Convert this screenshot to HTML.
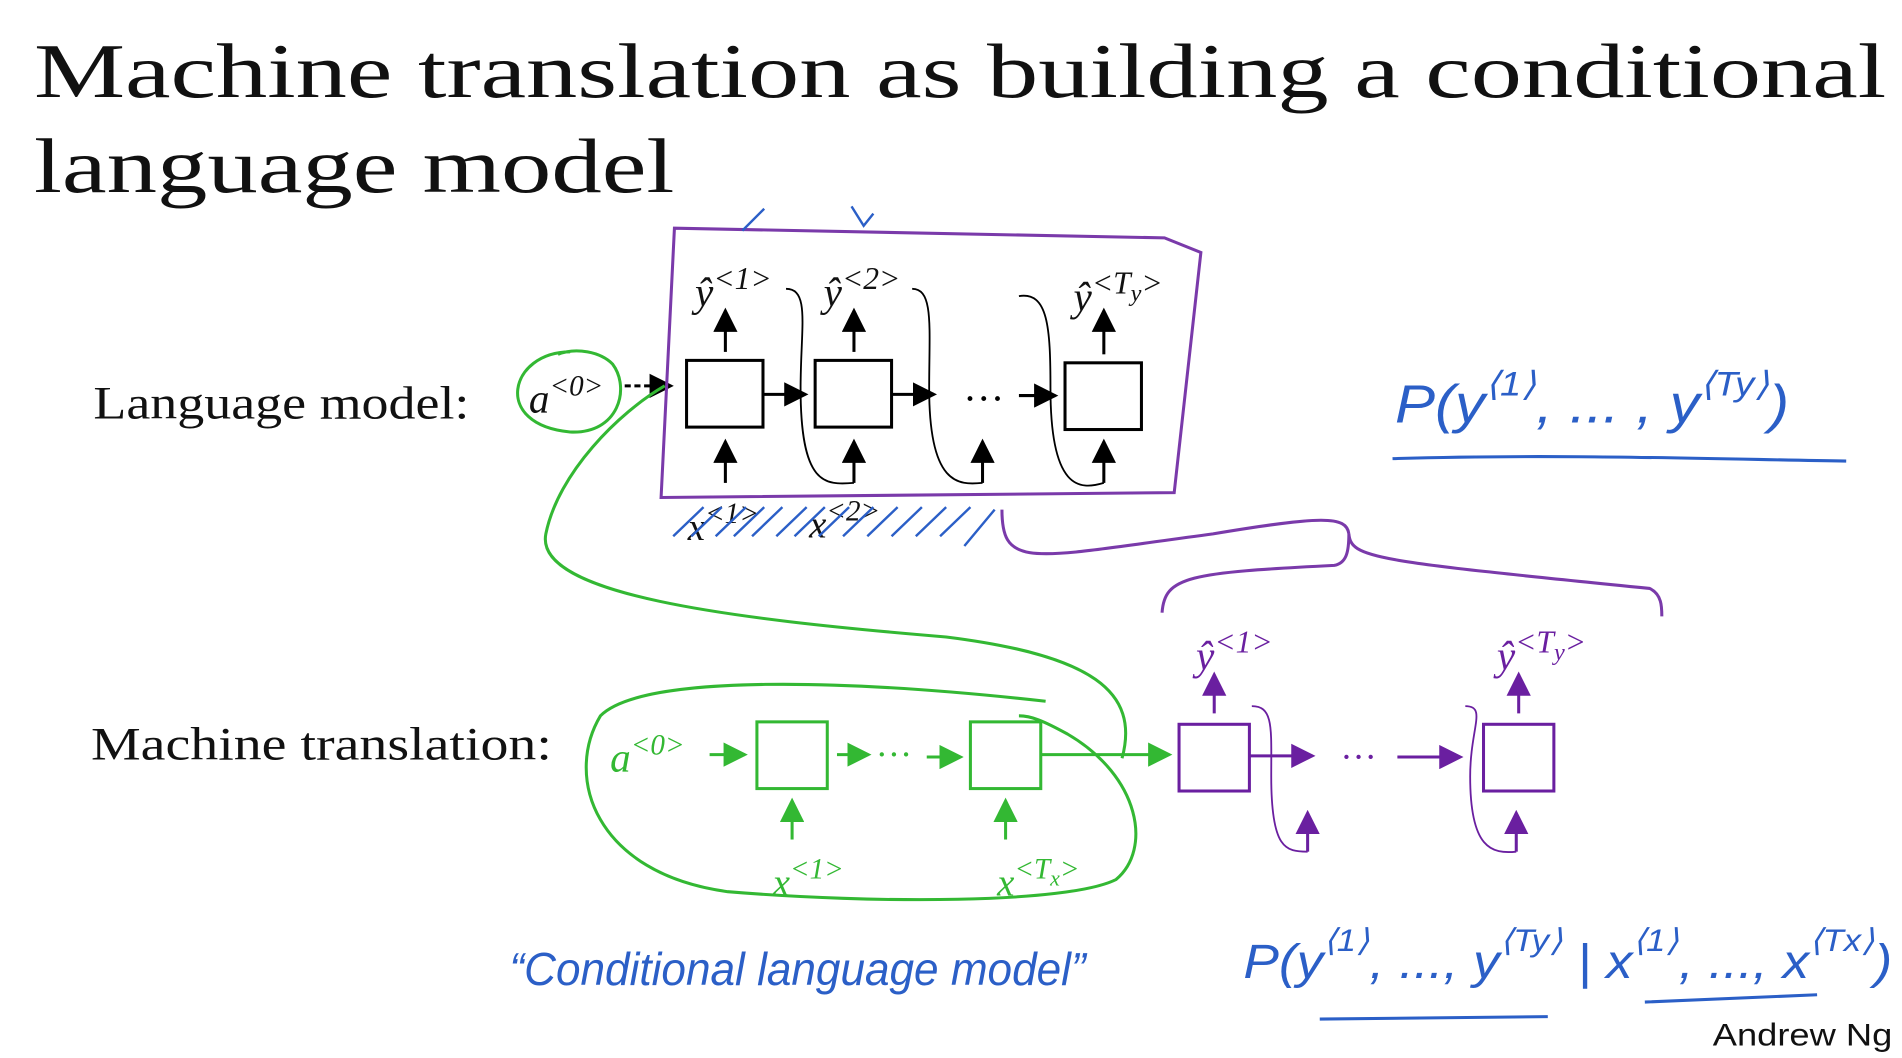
<!DOCTYPE html>
<html><head><meta charset="utf-8"><style>
html,body{margin:0;padding:0;background:#fff;overflow:hidden}
svg{display:block}
.serif{font-family:"Liberation Serif",serif}
.hand{font-family:"Liberation Sans",sans-serif;font-style:italic}
</style></head><body>
<svg width="1902" height="1058" viewBox="0 0 1568 872" xmlns="http://www.w3.org/2000/svg">
<defs>
<marker id="ak" markerWidth="8" markerHeight="8" refX="7" refY="4" orient="auto"><path d="M0,0 L8,4 L0,8z" fill="#000"/></marker>
<marker id="ag" markerWidth="8" markerHeight="8" refX="7" refY="4" orient="auto"><path d="M0,0 L8,4 L0,8z" fill="#33b833"/></marker>
<marker id="ap" markerWidth="8" markerHeight="8" refX="7" refY="4" orient="auto"><path d="M0,0 L8,4 L0,8z" fill="#6a1fa0"/></marker>
</defs>
<rect width="1568" height="872" fill="#fff"/>
<g class="serif" font-size="64" fill="#111">
<text x="28" y="80" textLength="1527" lengthAdjust="spacingAndGlyphs">Machine translation as building a conditional</text>
<text x="28" y="158" textLength="528" lengthAdjust="spacingAndGlyphs">language model</text>
</g>
<text class="serif" x="77" y="345" font-size="38" fill="#111" textLength="310" lengthAdjust="spacingAndGlyphs">Language model:</text>
<text class="serif" x="75" y="626" font-size="38" fill="#111" textLength="380" lengthAdjust="spacingAndGlyphs">Machine translation:</text>

<g stroke="#000" stroke-width="2.5" fill="none">
<rect x="566" y="297" width="63" height="55" fill="#fff"/>
<rect x="672" y="297" width="63" height="55" fill="#fff"/>
<rect x="878" y="299" width="63" height="55" fill="#fff"/>
<line x1="515" y1="318" x2="553" y2="318" stroke-dasharray="5 3" marker-end="url(#ak)"/>
<line x1="629" y1="325" x2="664" y2="325" marker-end="url(#ak)"/>
<line x1="735" y1="325" x2="770" y2="325" marker-end="url(#ak)"/>
<line x1="840" y1="326" x2="870" y2="326" marker-end="url(#ak)"/>
<line x1="598" y1="290" x2="598" y2="256" marker-end="url(#ak)"/>
<line x1="704" y1="290" x2="704" y2="256" marker-end="url(#ak)"/>
<line x1="910" y1="292" x2="910" y2="256" marker-end="url(#ak)"/>
<line x1="598" y1="398" x2="598" y2="364" marker-end="url(#ak)"/>
<line x1="704" y1="398" x2="704" y2="364" marker-end="url(#ak)"/>
<line x1="810" y1="398" x2="810" y2="364" marker-end="url(#ak)"/>
<line x1="910" y1="398" x2="910" y2="364" marker-end="url(#ak)"/>
<path d="M648,238 C668,238 660,270 660,320 C660,400 680,400 704,398" stroke-width="1.5"/>
<path d="M752,238 C770,238 766,270 766,320 C766,400 790,400 810,398" stroke-width="1.5"/>
<path d="M840,244 C864,240 866,270 866,320 C866,404 890,404 910,398" stroke-width="1.5"/>
</g>
<text class="serif" x="794" y="340" font-size="34" fill="#000">···</text>
<g class="serif" font-style="italic" fill="#111">
<text x="573" y="252" font-size="34">ŷ<tspan font-size="26" dy="-14">&lt;1&gt;</tspan></text>
<text x="679" y="252" font-size="34">ŷ<tspan font-size="26" dy="-14">&lt;2&gt;</tspan></text>
<text x="885" y="256" font-size="34">ŷ<tspan font-size="26" dy="-14">&lt;T</tspan><tspan font-size="20" dy="6">y</tspan><tspan font-size="26" dy="-6">&gt;</tspan></text>
<text x="436" y="340" font-size="34">a<tspan font-size="24" dy="-14">&lt;0&gt;</tspan></text>
<text x="567" y="445" font-size="32">x<tspan font-size="24" dy="-14">&lt;1&gt;</tspan></text>
<text x="667" y="443" font-size="32">x<tspan font-size="24" dy="-14">&lt;2&gt;</tspan></text>
</g>
<g stroke="#2b5fc7" stroke-width="2">
<path d="M555,442 L580,418 M570,442 L595,418 M590,442 L615,418 M605,442 L630,418 M620,442 L645,418 M640,442 L665,418 M655,442 L680,418 M675,442 L700,418 M695,442 L720,418 M715,442 L740,418 M735,442 L760,418 M755,442 L780,418 M775,442 L800,418 M795,450 L820,420"/>
</g>
<polygon points="556,188 960,196 990,208 968,406 545,410" fill="none" stroke="#7a3aaa" stroke-width="2.5"/>
<path d="M612,190 L630,172 M702,170 L712,186 L720,176" stroke="#2b5fc7" stroke-width="2" fill="none"/>
<path d="M470,290 C420,290 405,350 470,356 C510,358 520,320 505,300 C495,290 475,286 460,292 M548,318 C510,340 460,390 450,440 C440,490 600,510 780,525 C900,540 940,570 925,625" fill="none" stroke="#33b833" stroke-width="2.5"/>

<text class="hand" x="1150" y="348" font-size="44" fill="#2b5fc7" font-style="normal" textLength="325" lengthAdjust="spacingAndGlyphs">P(y<tspan font-size="28" dy="-22">⟨1⟩</tspan><tspan dy="22">, ... , y</tspan><tspan font-size="28" dy="-22">⟨Ty⟩</tspan><tspan dy="22">)</tspan></text>
<path d="M1148,378 C1280,374 1400,378 1522,380" stroke="#2b5fc7" stroke-width="2.5" fill="none"/>
<path d="M826,420 C826,470 850,460 1000,440 C1090,425 1110,425 1112,440 M958,505 C960,475 980,472 1100,466 C1110,464 1112,455 1112,440 C1114,460 1130,462 1360,485 C1370,490 1370,500 1370,508" fill="none" stroke="#7a3aaa" stroke-width="2.5"/>

<g stroke="#33b833" stroke-width="2.5" fill="none">
<rect x="624" y="595" width="58" height="55"/>
<rect x="800" y="595" width="58" height="55"/>
<line x1="585" y1="622" x2="614" y2="622" marker-end="url(#ag)"/>
<line x1="690" y1="622" x2="716" y2="622" marker-end="url(#ag)"/>
<line x1="764" y1="624" x2="792" y2="624" marker-end="url(#ag)"/>
<line x1="858" y1="622" x2="964" y2="622" marker-end="url(#ag)"/>
<line x1="653" y1="692" x2="653" y2="660" marker-end="url(#ag)"/>
<line x1="829" y1="692" x2="829" y2="660" marker-end="url(#ag)"/>
<path d="M862,578 C700,560 530,555 495,590 C465,640 490,720 600,735 C720,745 880,745 920,725 C950,700 940,640 880,605 C860,594 850,590 840,590"/>
</g>
<text x="722" y="632" font-size="30" fill="#33b833" class="serif">···</text>
<g class="serif" font-style="italic" fill="#33b833">
<text x="503" y="636" font-size="34">a<tspan font-size="24" dy="-14">&lt;0&gt;</tspan></text>
<text x="637" y="738" font-size="32">x<tspan font-size="24" dy="-14">&lt;1&gt;</tspan></text>
<text x="822" y="738" font-size="32">x<tspan font-size="24" dy="-14">&lt;T</tspan><tspan font-size="18" dy="6">x</tspan><tspan font-size="24" dy="-6">&gt;</tspan></text>
</g>
<g stroke="#6a1fa0" stroke-width="2.5" fill="none">
<rect x="972" y="597" width="58" height="55"/>
<rect x="1223" y="597" width="58" height="55"/>
<line x1="1030" y1="623" x2="1082" y2="623" marker-end="url(#ap)"/>
<line x1="1152" y1="624" x2="1204" y2="624" marker-end="url(#ap)"/>
<line x1="1001" y1="588" x2="1001" y2="556" marker-end="url(#ap)"/>
<line x1="1252" y1="588" x2="1252" y2="556" marker-end="url(#ap)"/>
<line x1="1078" y1="702" x2="1078" y2="670" marker-end="url(#ap)"/>
<line x1="1250" y1="702" x2="1250" y2="670" marker-end="url(#ap)"/>
<path d="M1032,582 C1050,582 1048,600 1048,640 C1048,700 1060,702 1078,702" stroke-width="1.5"/>
<path d="M1208,582 C1226,582 1212,600 1212,640 C1212,700 1230,704 1250,702" stroke-width="1.5"/>
</g>
<text x="1105" y="634" font-size="30" fill="#6a1fa0" class="serif">···</text>
<g class="serif" font-style="italic" fill="#6a1fa0">
<text x="986" y="552" font-size="34">ŷ<tspan font-size="26" dy="-14">&lt;1&gt;</tspan></text>
<text x="1234" y="552" font-size="34">ŷ<tspan font-size="26" dy="-14">&lt;T</tspan><tspan font-size="20" dy="6">y</tspan><tspan font-size="26" dy="-6">&gt;</tspan></text>
</g>

<text class="hand" x="420" y="812" font-size="38" fill="#2b5fc7" textLength="475" lengthAdjust="spacingAndGlyphs">“Conditional  language  model”</text>
<text class="hand" x="1025" y="806" font-size="40" fill="#2b5fc7" font-style="normal" textLength="535" lengthAdjust="spacingAndGlyphs">P(y<tspan font-size="26" dy="-22">⟨1⟩</tspan><tspan dy="22">, ..., y</tspan><tspan font-size="26" dy="-22">⟨Ty⟩</tspan><tspan dy="22"> | x</tspan><tspan font-size="26" dy="-22">⟨1⟩</tspan><tspan dy="22">, ..., x</tspan><tspan font-size="26" dy="-22">⟨Tx⟩</tspan><tspan dy="22">)</tspan></text>
<path d="M1088,840 L1276,838 M1356,826 L1498,820" stroke="#2b5fc7" stroke-width="2.5" fill="none"/>
<text x="1412" y="862" font-family="Liberation Sans,sans-serif" font-size="26" fill="#111" textLength="148" lengthAdjust="spacingAndGlyphs">Andrew Ng</text>
</svg>
</body></html>
